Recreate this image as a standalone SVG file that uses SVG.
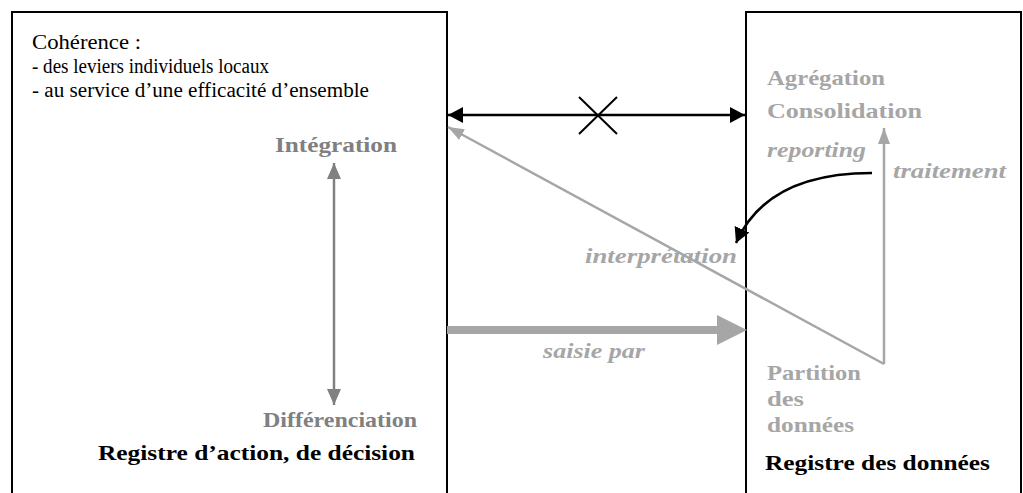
<svg xmlns="http://www.w3.org/2000/svg" width="1023" height="493" viewBox="0 0 1023 493">
<style>
.box{fill:none;stroke:#000;stroke-width:2}
.t{font-family:"Liberation Serif",serif}
.b{font-weight:bold}
.i{font-style:italic;font-weight:bold}
.g1{fill:#808080}
.g2{fill:#a6a6a6}
</style>
<defs>
<marker id="ab" markerWidth="15" markerHeight="16" refX="15" refY="8" orient="auto-start-reverse" markerUnits="userSpaceOnUse" viewBox="0 0 15 16"><path d="M0,0 L15,8 L0,16 z" fill="#000"/></marker>
<marker id="ag" markerWidth="16" markerHeight="16" refX="16" refY="8" orient="auto" markerUnits="userSpaceOnUse" viewBox="0 0 16 16"><path d="M0,2 L16,8 L0,14 z" fill="#a6a6a6"/></marker>
<marker id="am" markerWidth="16" markerHeight="16" refX="16" refY="8" orient="auto-start-reverse" markerUnits="userSpaceOnUse" viewBox="0 0 16 16"><path d="M0,1 L16,8 L0,15 z" fill="#808080"/></marker>
</defs>
<g id="left-box">
<rect class="box" x="12" y="12" width="435" height="486"/>
<text class="t" x="32" y="49" font-size="20" textLength="109" lengthAdjust="spacingAndGlyphs">Cohérence :</text>
<text class="t" x="32" y="73" font-size="20" textLength="237" lengthAdjust="spacingAndGlyphs">- des leviers individuels locaux</text>
<text class="t" x="32" y="97" font-size="20" textLength="337" lengthAdjust="spacingAndGlyphs">- au service d’une efficacité d’ensemble</text>
<text class="t b" x="98" y="460" font-size="21" textLength="317" lengthAdjust="spacingAndGlyphs">Registre d’action, de décision</text>
</g>
<g id="integration"><text class="t b g1" x="275" y="152" font-size="21" textLength="122" lengthAdjust="spacingAndGlyphs">Intégration</text></g>
<g id="differenciation"><text class="t b g1" x="263" y="427" font-size="21" textLength="154" lengthAdjust="spacingAndGlyphs">Différenciation</text></g>
<g id="right-box">
<rect class="box" x="746" y="12" width="275" height="486"/>
<text class="t b" x="765" y="470" font-size="21" textLength="225" lengthAdjust="spacingAndGlyphs">Registre des données</text>
</g>
<g id="agregation">
<text class="t b g2" x="767" y="85" font-size="21" textLength="118" lengthAdjust="spacingAndGlyphs">Agrégation</text>
<text class="t b g2" x="767" y="118" font-size="21" textLength="155" lengthAdjust="spacingAndGlyphs">Consolidation</text>
</g>
<g id="partition">
<text class="t b g2" x="767" y="380" font-size="21" textLength="94" lengthAdjust="spacingAndGlyphs">Partition</text>
<text class="t b g2" x="767" y="406" font-size="21" textLength="37" lengthAdjust="spacingAndGlyphs">des</text>
<text class="t b g2" x="767" y="432" font-size="21" textLength="87" lengthAdjust="spacingAndGlyphs">données</text>
</g>
<g id="connectors">
<line x1="448" y1="115" x2="745" y2="115" stroke="#000" stroke-width="2.5" marker-start="url(#ab)" marker-end="url(#ab)"/>
<path d="M579,97 L617,134 M617,97 L579,134" stroke="#000" stroke-width="2" fill="none"/>
<line x1="334" y1="163" x2="334" y2="405" stroke="#808080" stroke-width="2.5" marker-start="url(#am)" marker-end="url(#am)"/>
<path d="M884,364 L884,128" stroke="#a6a6a6" stroke-width="2.5" fill="none" marker-end="url(#ag)"/>
<path d="M884,364 L448,127" stroke="#a6a6a6" stroke-width="2.5" fill="none" marker-end="url(#ag)"/>
<path d="M872,173 C805,173 757,195 736,243" stroke="#000" stroke-width="2.5" fill="none" marker-end="url(#ab)"/>
<line x1="447" y1="330" x2="720" y2="330" stroke="#a6a6a6" stroke-width="8"/>
<path d="M717,315 L747,330 L717,345 z" fill="#a6a6a6"/>
<text class="t i g2" x="767" y="157" font-size="21" textLength="99" lengthAdjust="spacingAndGlyphs">reporting</text>
<text class="t i g2" x="893" y="178" font-size="21" textLength="113" lengthAdjust="spacingAndGlyphs">traitement</text>
<text class="t i g2" x="585" y="263" font-size="21" textLength="152" lengthAdjust="spacingAndGlyphs">interprétation</text>
<text class="t i g2" x="543" y="358" font-size="21" textLength="102" lengthAdjust="spacingAndGlyphs">saisie par</text>
</g>
</svg>
